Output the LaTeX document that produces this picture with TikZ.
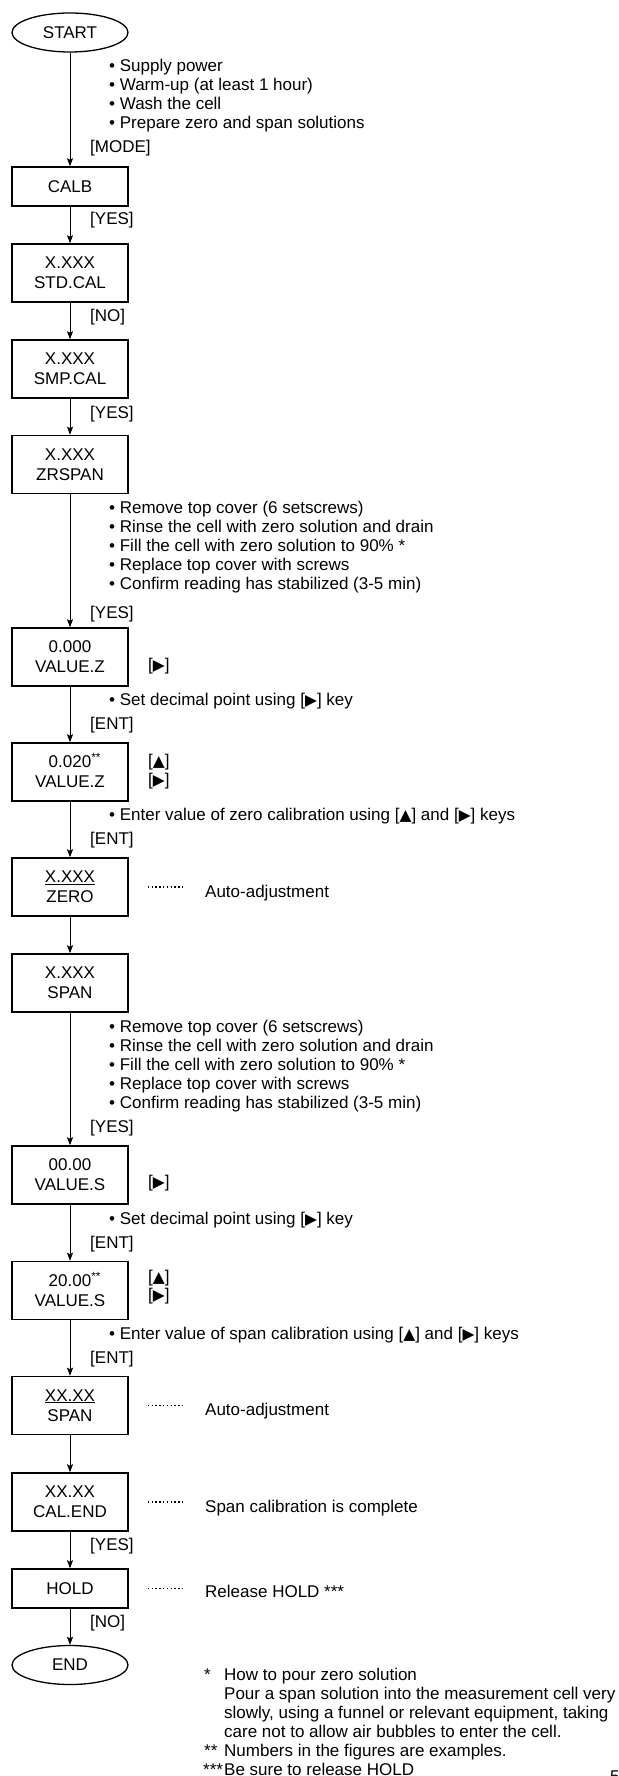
\documentclass[tikz,border=0pt]{standalone}
\usepackage{fontspec}
\setmainfont{Liberation Sans}
\newfontfamily\symfont{DejaVu Sans}
\usetikzlibrary{shapes.geometric,arrows.meta}

% key symbols
\newcommand\keyright{{\symfont\fontsize{15.5}{15.5}\selectfont ▶}}
\newcommand\keyup{{\symfont\fontsize{15.5}{15.5}\selectfont ▲}}
\newcommand\exmark{\rlap{\smash{\textsuperscript{**}}}}

\begin{document}
\begin{tikzpicture}[x=1pt,y=-1pt,
  every node/.style={font=\fontsize{17}{20}\selectfont, inner sep=0pt},
  box/.style={draw, line width=1.5pt, minimum width=116pt, align=center},
  onebox/.style={box, minimum height=39pt},
  twobox/.style={box, minimum height=58pt},
  term/.style={ellipse, draw, line width=1.3pt, minimum width=116pt, minimum height=39pt},
  lbl/.style={anchor=base west},
  conn/.style={line width=0.8pt, -{Stealth[length=8pt,width=6pt,inset=1.5pt]}},
  lead/.style={line width=1.4pt, dash pattern=on 1.4pt off 2.4pt}
]
\useasboundingbox (0,0) rectangle (618,1776);

% ---- flow steps ----
\node[term]   (start)  at (70,32.5)  {START};
\node[onebox] (calb)   at (70,186.5) {CALB};
\node[twobox] (std)    at (70,273)   {X.XXX\\STD.CAL};
\node[twobox] (smp)    at (70,369)   {X.XXX\\SMP.CAL};
\node[twobox] (zr)     at (70,464.5) {X.XXX\\ZRSPAN};
\node[twobox] (vz)     at (70,657)   {0.000\\VALUE.Z};
\node[twobox] (vzz)    at (70,772)   {0.020\exmark\\VALUE.Z};
\node[twobox] (zero)   at (70,887)   {\underline{X.XXX}\\ZERO};
\node[twobox] (span)   at (70,983)   {X.XXX\\SPAN};
\node[twobox] (vs)     at (70,1175)  {00.00\\VALUE.S};
\node[twobox] (vss)    at (70,1290.5){20.00\exmark\\VALUE.S};
\node[twobox] (spanb)  at (70,1405.5){\underline{XX.XX}\\SPAN};
\node[twobox] (calend) at (70,1502)  {XX.XX\\CAL.END};
\node[onebox] (hold)   at (70,1588.5){HOLD};
\node[term]   (end)    at (70,1665)  {END};

% ---- connectors ----
\foreach \a/\b in {start/calb, calb/std, std/smp, smp/zr, zr/vz, vz/vzz,
                   vzz/zero, zero/span, span/vs, vs/vss, vss/spanb,
                   spanb/calend, calend/hold, hold/end}
  \draw[conn] (\a) -- (\b);

% ---- key labels on the connectors ----
\node[lbl] (k1)  at (90,153)  {[MODE]};
\node[lbl] (k2)  at (90,225)  {[YES]};
\node[lbl] (k3)  at (90,321)  {[NO]};
\node[lbl] (k4)  at (90,418)  {[YES]};
\node[lbl] (k5)  at (90,618)  {[YES]};
\node[lbl] (k6)  at (90,729)  {[ENT]};
\node[lbl] (k7)  at (90,844)  {[ENT]};
\node[lbl] (k8)  at (90,1132) {[YES]};
\node[lbl] (k9)  at (90,1248) {[ENT]};
\node[lbl] (k10) at (90,1363) {[ENT]};
\node[lbl] (k11) at (90,1550) {[YES]};
\node[lbl] (k12) at (90,1627) {[NO]};

% ---- keys beside the value displays ----
\node[lbl] (r1) at (148,670)  {[\keyright]};
\node[lbl] (u2) at (148,766)  {[\keyup]};
\node[lbl] (r2) at (148,785)  {[\keyright]};
\node[lbl] (r3) at (148,1187) {[\keyright]};
\node[lbl] (u4) at (148,1282) {[\keyup]};
\node[lbl] (r4) at (148,1300) {[\keyright]};

% ---- instructions ----
\foreach \t [count=\i] in {Supply power, Warm-up (at least 1 hour),
                           Wash the cell, Prepare zero and span solutions}
  \node[lbl] (pa\i) at (109,{72+19*(\i-1)}) {• \t};
\foreach \t [count=\i] in {Remove top cover (6 setscrews),
                           Rinse the cell with zero solution and drain,
                           Fill the cell with zero solution to 90\% *,
                           Replace top cover with screws,
                           Confirm reading has stabilized (3-5 min)} {
  \node[lbl] (pb\i) at (109,{513+19*(\i-1)}) {• \t};
  \node[lbl] (pc\i) at (109,{1032+19*(\i-1)}) {• \t};
}
\node[lbl] (sd1) at (109,705)  {• Set decimal point using [\keyright] key};
\node[lbl] (ev1) at (109,820)  {• Enter value of zero calibration using [\keyup] and [\keyright] keys};
\node[lbl] (sd2) at (109,1224) {• Set decimal point using [\keyright] key};
\node[lbl] (ev2) at (109,1339) {• Enter value of span calibration using [\keyup] and [\keyright] keys};

% ---- remarks with dotted leaders ----
\node[lbl] (n1) at (205,897)    {Auto-adjustment};
\node[lbl] (n2) at (205,1415.5) {Auto-adjustment};
\node[lbl] (n3) at (205,1512)   {Span calibration is complete};
\node[lbl] (n4) at (205,1597)   {Release HOLD ***};
\foreach \b in {zero, spanb, calend, hold}
  \draw[lead] ([xshift=19pt]\b.east) -- ([xshift=55pt]\b.east);

% ---- footnotes ----
\node[lbl] (f1m) at (204,1680) {*};
\node[lbl] (f1a) at (224,1680) {How to pour zero solution};
\node[lbl] (f1b) at (224,1699) {Pour a span solution into the measurement cell very};
\node[lbl] (f1c) at (224,1718) {slowly, using a funnel or relevant equipment, taking};
\node[lbl] (f1d) at (224,1737) {care not to allow air bubbles to enter the cell.};
\node[lbl] (f2m) at (204,1756) {**};
\node[lbl] (f2a) at (224,1756) {Numbers in the figures are examples.};
\node[lbl] (f3m) at (203,1775) {***};
\node[lbl] (f3a) at (224,1775) {Be sure to release HOLD};

% page number, running off the lower edge of the page
\node[lbl] (pg) at (610,1782) {5};
\end{tikzpicture}
\end{document}
